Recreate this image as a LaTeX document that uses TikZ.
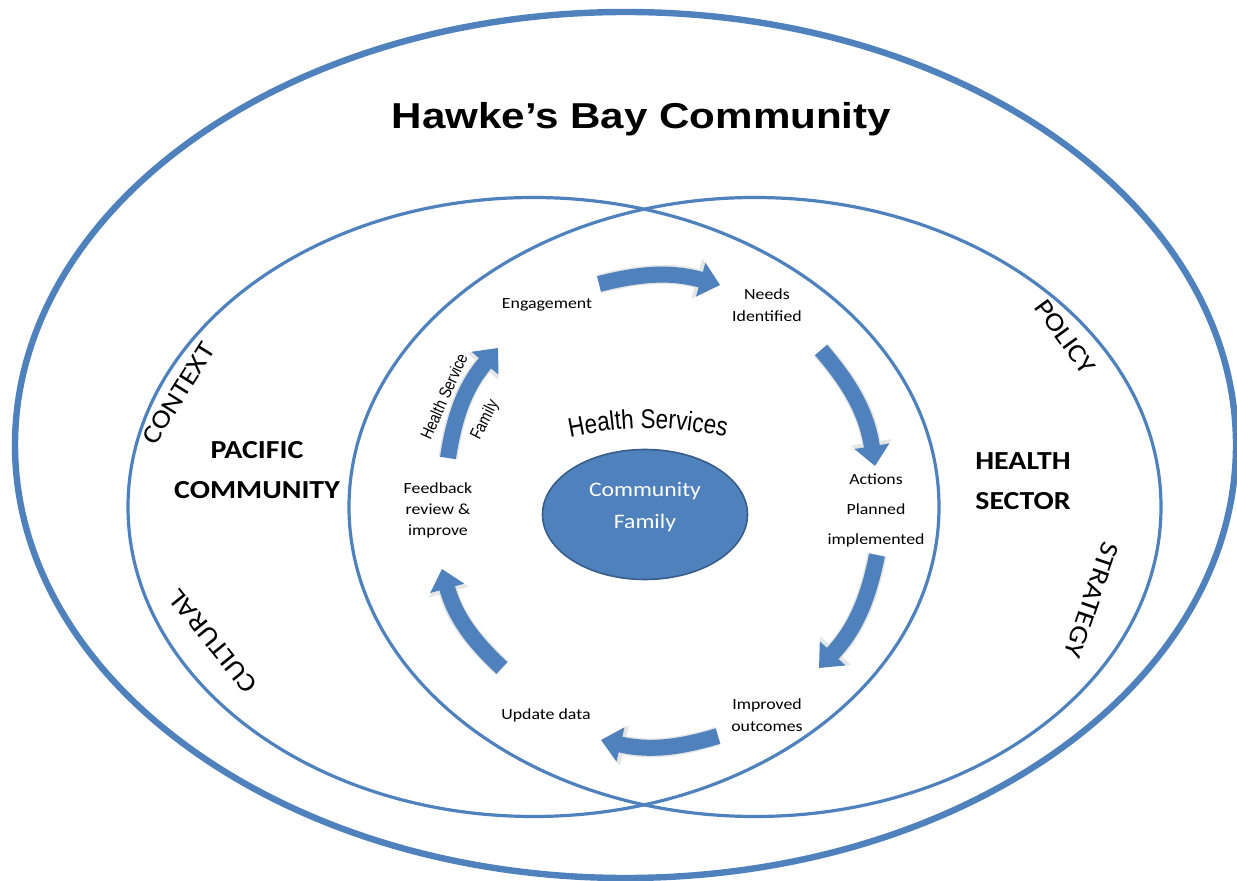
\documentclass[tikz,border=0pt]{standalone}
\usepackage{fontspec}
\setmainfont{Carlito}[FakeStretch=1.15]
\newfontfamily\titlefont{Liberation Sans}[FakeStretch=1.17]
\newfontfamily\narrowfont{Liberation Sans}[FakeStretch=0.83]
\usetikzlibrary{arrows.meta,shapes.geometric,decorations.text}
\definecolor{hbblue}{RGB}{79,129,189}
\definecolor{hbdark}{RGB}{56,93,138}

\begin{document}
\begin{tikzpicture}[%
        x=0.5pt, y=0.5pt,
        every node/.style={inner sep=0pt},
        ring/.style={draw=hbblue, line width=1.6pt},
        cyc/.style={draw=hbblue, line width=8pt, -{Triangle[width=17pt,length=10pt]},
          preaction={draw=black!10, line width=9.5pt, -{Triangle[width=20pt,length=12pt]}}},
        stage/.style={font=\fontsize{7.75}{11}\selectfont, align=center},
        sector/.style={font=\bfseries\fontsize{13}{20}\selectfont, align=center},
        rim/.style={font=\fontsize{13}{15}\selectfont},
        slant/.style={font=\narrowfont\fontsize{8.5}{10}\selectfont}
      ]
      \useasboundingbox (0,0) rectangle (1237,-881);
      % the three rings
      \draw[draw=hbblue, line width=3.2pt] (625.5,-445) ellipse [x radius=610.5, y radius=433];
      \draw[ring] (533.5,-507) ellipse [x radius=405.5, y radius=309.5];
      \draw[ring] (755,-507) ellipse [x radius=406, y radius=309.5];

      \node [font=\titlefont\bfseries\fontsize{18}{22}\selectfont, anchor=base] (title) at (641.5,-129) {Hawke’s Bay Community};

      \node [sector] (pacific) at (257,-470) {PACIFIC\\COMMUNITY};
      \node [sector] (health) at (1023,-481) {HEALTH\\SECTOR};
      \node [rim, rotate=58] (context) at (178.5,-393.5) {CONTEXT};
      \node [rim, rotate=129] (cultural) at (213,-641.5) {CULTURAL};
      \node [rim, rotate=-54] (policy) at (1065,-337) {POLICY};
      \node [rim, rotate=-109] (strategy) at (1091.5,-600) {STRATEGY};

      % centre
      \node [ellipse, fill=hbblue, draw=hbdark, line width=0.8pt, minimum width=102.5pt, minimum height=65pt] (core) at (645,-514.5) {};
      \node [font=\fontsize{10.3}{15.75}\selectfont, text=white, align=center] (corelbl) at (645,-507) {Community\\Family};
      \path [decorate, decoration={text along path, text align=center,
          text={|\narrowfont\fontsize{13.5}{16}\selectfont|Health Services}}]
        (566,-438) to[bend left=12] (730,-438);

      % the cycle
      \node [stage] (engage) at (547,-305) {Engagement};
      \node [stage] (needs) at (767,-305.5) {Needs\\Identified};
      \node [stage] (actions) at (876,-510.5) {Actions\\[4pt]Planned\\[4pt]implemented};
      \node [stage] (improved) at (767,-715) {Improved\\outcomes};
      \node [stage] (update) at (546,-715) {Update data};
      \node [stage, font=\fontsize{7.75}{10.5}\selectfont] (feedback) at (438,-510) {Feedback\\review \&\\improve};
      \node [slant, rotate=66] (hsf1) at (443.8,-396.4) {Health Service};
      \node [slant, rotate=63] (hsf2) at (485.2,-420.2) {Family};

      \coordinate (a1) at (599,-284);  \coordinate (b1) at (720,-285);
      \coordinate (a2) at (821,-350);  \coordinate (b2) at (875,-466);
      \coordinate (a3) at (877,-555);  \coordinate (b3) at (819,-668);
      \coordinate (a4) at (718,-736);  \coordinate (b4) at (601,-740);
      \coordinate (a5) at (502,-668);  \coordinate (b5) at (442,-569);
      \coordinate (a6) at (448,-458);  \coordinate (b6) at (498,-348);
      \draw [cyc] (a1) to[bend left=15] (b1);
      \draw [cyc] (a2) to[bend left=16] (b2);
      \draw [cyc] (a3) to[bend left=16] (b3);
      \draw [cyc] (a4) to[bend left=15] (b4);
      \draw [cyc] (a5) to[bend left=16] (b5);
      \draw [cyc] (a6) to[bend left=16] (b6);
\end{tikzpicture}
\end{document}
